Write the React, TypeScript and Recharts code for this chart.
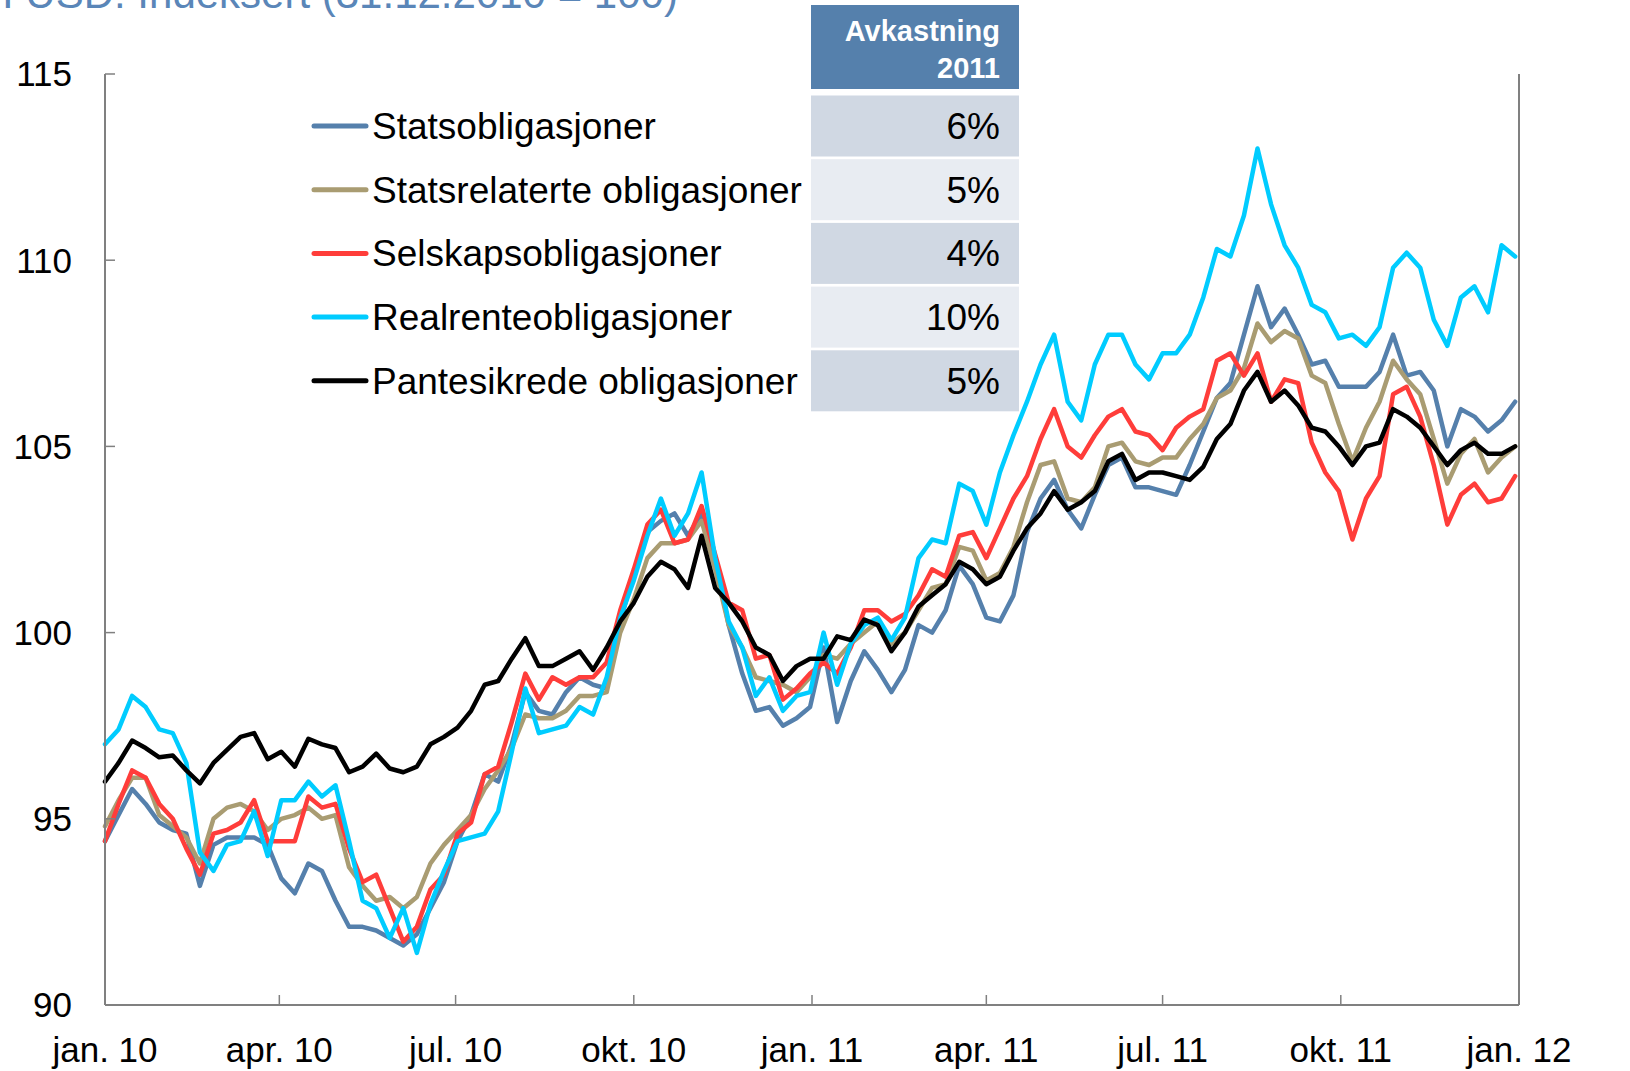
import { LineChart, Line, XAxis, YAxis } from 'recharts'

// Weekly readings, 31.12.2009 -> 29.12.2011 (index 0 = week 0)
const statsobligasjoner = [
  94.4, 95.1, 95.8, 95.4, 94.9, 94.7, 94.6, 93.2, 94.3, 94.5,
  94.5, 94.5, 94.3, 93.4, 93.0, 93.8, 93.6, 92.8, 92.1, 92.1,
  92.0, 91.8, 91.6, 91.9, 92.6, 93.3, 94.4, 95.1, 96.2, 96.0,
  97.0, 98.4, 97.9, 97.8, 98.4, 98.8, 98.6, 98.5, 100.3, 101.6,
  102.7, 103.0, 103.2, 102.6, 103.2, 102.0, 100.2, 98.9, 97.9, 98.0,
  97.5, 97.7, 98.0, 99.6, 97.6, 98.7, 99.5, 99.0, 98.4, 99.0,
  100.2, 100.0, 100.6, 101.8, 101.3, 100.4, 100.3, 101.0, 102.7, 103.6,
  104.1, 103.3, 102.8, 103.7, 104.5, 104.7, 103.9, 103.9, 103.8, 103.7,
  104.5, 105.4, 106.3, 106.7, 108.0, 109.3, 108.2, 108.7, 108.0, 107.2,
  107.3, 106.6, 106.6, 106.6, 107.0, 108.0, 106.9, 107.0, 106.5, 105.0,
  106.0, 105.8, 105.4, 105.7, 106.2,
]
const statsrelaterte = [
  94.8, 95.5, 96.1, 96.1, 95.1, 94.8, 94.5, 93.8, 95.0, 95.3,
  95.4, 95.2, 94.7, 95.0, 95.1, 95.3, 95.0, 95.1, 93.7, 93.2,
  92.8, 92.9, 92.6, 92.9, 93.8, 94.3, 94.7, 95.1, 95.8, 96.3,
  96.9, 97.8, 97.7, 97.7, 97.9, 98.3, 98.3, 98.4, 100.0, 100.9,
  102.0, 102.4, 102.4, 102.5, 103.0, 101.7, 100.2, 99.6, 98.8, 98.7,
  98.6, 98.4, 98.8, 99.4, 99.3, 99.7, 100.0, 100.3, 99.7, 100.0,
  100.6, 101.2, 101.3, 102.3, 102.2, 101.4, 101.6, 102.3, 103.5, 104.5,
  104.6, 103.6, 103.5, 103.9, 105.0, 105.1, 104.6, 104.5, 104.7, 104.7,
  105.2, 105.6, 106.3, 106.5, 107.1, 108.3, 107.8, 108.1, 107.9, 106.9,
  106.7, 105.6, 104.6, 105.5, 106.2, 107.3, 106.8, 106.4, 105.2, 104.0,
  104.8, 105.2, 104.3, 104.7, 105.0,
]
const selskapsobligasjoner = [
  94.4, 95.4, 96.3, 96.1, 95.4, 95.0, 94.2, 93.5, 94.6, 94.7,
  94.9, 95.5, 94.4, 94.4, 94.4, 95.6, 95.3, 95.4, 94.2, 93.3,
  93.5, 92.6, 91.7, 92.1, 93.1, 93.5, 94.6, 94.9, 96.2, 96.4,
  97.6, 98.9, 98.2, 98.8, 98.6, 98.8, 98.8, 99.2, 100.6, 101.7,
  102.9, 103.3, 102.4, 102.5, 103.4, 102.1, 100.8, 100.6, 99.3, 99.4,
  98.2, 98.5, 98.9, 99.2, 98.9, 99.6, 100.6, 100.6, 100.3, 100.5,
  101.0, 101.7, 101.5, 102.6, 102.7, 102.0, 102.8, 103.6, 104.2, 105.2,
  106.0, 105.0, 104.7, 105.3, 105.8, 106.0, 105.4, 105.3, 104.9, 105.5,
  105.8, 106.0, 107.3, 107.5, 106.9, 107.5, 106.2, 106.8, 106.7, 105.1,
  104.3, 103.8, 102.5, 103.6, 104.2, 106.4, 106.6, 105.8, 104.5, 102.9,
  103.7, 104.0, 103.5, 103.6, 104.2,
]
const realrenteobligasjoner = [
  97.0, 97.4, 98.3, 98.0, 97.4, 97.3, 96.5, 94.1, 93.6, 94.3,
  94.4, 95.2, 94.0, 95.5, 95.5, 96.0, 95.6, 95.9, 94.4, 92.8,
  92.6, 91.8, 92.6, 91.4, 92.7, 93.6, 94.4, 94.5, 94.6, 95.2,
  96.8, 98.5, 97.3, 97.4, 97.5, 98.0, 97.8, 98.8, 100.4, 101.4,
  102.6, 103.6, 102.6, 103.2, 104.3, 102.0, 100.3, 99.6, 98.3, 98.8,
  97.9, 98.3, 98.4, 100.0, 98.6, 99.7, 100.2, 100.4, 99.8, 100.4,
  102.0, 102.5, 102.4, 104.0, 103.8, 102.9, 104.3, 105.3, 106.2, 107.2,
  108.0, 106.2, 105.7, 107.2, 108.0, 108.0, 107.2, 106.8, 107.5, 107.5,
  108.0, 109.0, 110.3, 110.1, 111.2, 113.0, 111.5, 110.4, 109.8, 108.8,
  108.6, 107.9, 108.0, 107.7, 108.2, 109.8, 110.2, 109.8, 108.4, 107.7,
  109.0, 109.3, 108.6, 110.4, 110.1,
]
const pantesikrede = [
  96.0, 96.5, 97.1, 96.9, 96.65, 96.7, 96.3, 95.95, 96.5, 96.85,
  97.2, 97.3, 96.6, 96.8, 96.4, 97.15, 97.0, 96.9, 96.25, 96.4,
  96.75, 96.35, 96.25, 96.4, 97.0, 97.2, 97.45, 97.9, 98.6, 98.7,
  99.3, 99.85, 99.1, 99.1, 99.3, 99.5, 99.0, 99.6, 100.3, 100.8,
  101.5, 101.9, 101.7, 101.2, 102.6, 101.2, 100.8, 100.3, 99.6, 99.4,
  98.7, 99.1, 99.3, 99.3, 99.9, 99.8, 100.35, 100.2, 99.5, 100.0,
  100.7, 101.0, 101.3, 101.9, 101.7, 101.3, 101.5, 102.2, 102.8, 103.2,
  103.8, 103.3, 103.5, 103.8, 104.6, 104.8, 104.1, 104.3, 104.3, 104.2,
  104.1, 104.45, 105.2, 105.6, 106.5, 107.0, 106.2, 106.5, 106.1, 105.5,
  105.4, 105.0, 104.5, 105.0, 105.1, 106.0, 105.8, 105.5, 105.0, 104.5,
  104.9, 105.1, 104.8, 104.8, 105.0,
]

const seriesNames = [
  'Statsobligasjoner',
  'Statsrelaterte obligasjoner',
  'Selskapsobligasjoner',
  'Realrenteobligasjoner',
  'Pantesikrede obligasjoner',
]
const seriesColors = ['#5580AC', '#A99C72', '#FF3D3A', '#00CCFF', '#000000']
const seriesValues = [
  statsobligasjoner,
  statsrelaterte,
  selskapsobligasjoner,
  realrenteobligasjoner,
  pantesikrede,
]
const returns2011 = ['6%', '5%', '4%', '10%', '5%']

// days since 31.12.2009
const xTickDays = [0, 90, 181, 273, 365, 455, 546, 638, 730]
const xTickLabels = [
  'jan. 10', 'apr. 10', 'jul. 10', 'okt. 10', 'jan. 11',
  'apr. 11', 'jul. 11', 'okt. 11', 'jan. 12',
]
const yTicks = [90, 95, 100, 105, 110, 115]

const chartData = statsobligasjoner.map((_, i) => {
  const row: Record<string, number> = { day: i * 7 }
  seriesValues.forEach((vals, k) => {
    row[`s${k}`] = vals[i]
  })
  return row
})

const FONT = '"Liberation Sans", Arial, Helvetica, sans-serif'
const AXIS_STROKE = '#808080'
const tickStyle = { fontSize: 35, fill: '#000', fontFamily: FONT }

const W = 1630
const H = 1071

function Overlay() {
  const rowTop = (i: number) => 95.5 + i * 63.7
  const rowH = 61
  return (
    <svg
      width={W}
      height={H}
      style={{ position: 'absolute', left: 0, top: 0, pointerEvents: 'none' }}
    >
      {/* title is cropped at the top edge in the source image */}
      <text x={2} y={8} fontSize={42} fill="#5A86B8" fontFamily={FONT}>
        I USD. Indeksert (31.12.2010 = 100)
      </text>

      <rect x={811} y={5} width={208} height={84} fill="#5580AC" />
      <text
        x={1000}
        y={41}
        textAnchor="end"
        fontSize={29}
        fontWeight="bold"
        fill="#fff"
        fontFamily={FONT}
      >
        Avkastning
      </text>
      <text
        x={1000}
        y={78}
        textAnchor="end"
        fontSize={29}
        fontWeight="bold"
        fill="#fff"
        fontFamily={FONT}
      >
        2011
      </text>

      {seriesNames.map((name, i) => {
        const cy = rowTop(i) + rowH / 2
        return (
          <g key={name}>
            <rect
              x={811}
              y={rowTop(i)}
              width={208}
              height={rowH}
              fill={i % 2 === 0 ? '#D0D8E3' : '#E8ECF2'}
            />
            <text
              x={1000}
              y={cy + 13}
              textAnchor="end"
              fontSize={37}
              fill="#000"
              fontFamily={FONT}
            >
              {returns2011[i]}
            </text>
            <line
              x1={314}
              x2={366}
              y1={cy}
              y2={cy}
              stroke={seriesColors[i]}
              strokeWidth={5}
              strokeLinecap="round"
            />
            <text x={372} y={cy + 13} fontSize={37} fill="#000" fontFamily={FONT}>
              {name}
            </text>
          </g>
        )
      })}
    </svg>
  )
}

export default function App() {
  return (
    <div style={{ position: 'absolute', left: 0, top: 0, width: W, height: H, background: '#fff' }}>
      <LineChart
        width={W}
        height={H}
        data={chartData}
        margin={{ top: 74, right: 51, bottom: 16, left: 45 }}
      >
        <XAxis
          dataKey="day"
          type="number"
          domain={[0, 730]}
          ticks={xTickDays}
          interval={0}
          tickFormatter={(v: number) => xTickLabels[xTickDays.indexOf(v)] ?? ''}
          height={50}
          tickSize={-10}
          tickMargin={42}
          axisLine={{ stroke: AXIS_STROKE, strokeWidth: 2 }}
          tickLine={{ stroke: AXIS_STROKE, strokeWidth: 1.5 }}
          tick={tickStyle}
        />
        <YAxis
          yAxisId="left"
          type="number"
          domain={[90, 115]}
          ticks={yTicks}
          interval={0}
          width={60}
          tickSize={-10}
          tickMargin={43}
          axisLine={{ stroke: AXIS_STROKE, strokeWidth: 2 }}
          tickLine={{ stroke: AXIS_STROKE, strokeWidth: 1.5 }}
          tick={tickStyle}
        />
        <YAxis
          yAxisId="right"
          orientation="right"
          type="number"
          domain={[90, 115]}
          ticks={yTicks}
          interval={0}
          width={60}
          tickSize={-10}
          tickMargin={43}
          axisLine={{ stroke: AXIS_STROKE, strokeWidth: 2 }}
          tickLine={{ stroke: AXIS_STROKE, strokeWidth: 1.5 }}
          tick={tickStyle}
        />
        {seriesNames.map((name, k) => (
          <Line
            key={name}
            yAxisId="left"
            type="linear"
            dataKey={`s${k}`}
            name={name}
            stroke={seriesColors[k]}
            strokeWidth={4.5}
            strokeLinejoin="round"
            strokeLinecap="round"
            dot={false}
            activeDot={false}
            isAnimationActive={false}
          />
        ))}
      </LineChart>
      <Overlay />
    </div>
  )
}
